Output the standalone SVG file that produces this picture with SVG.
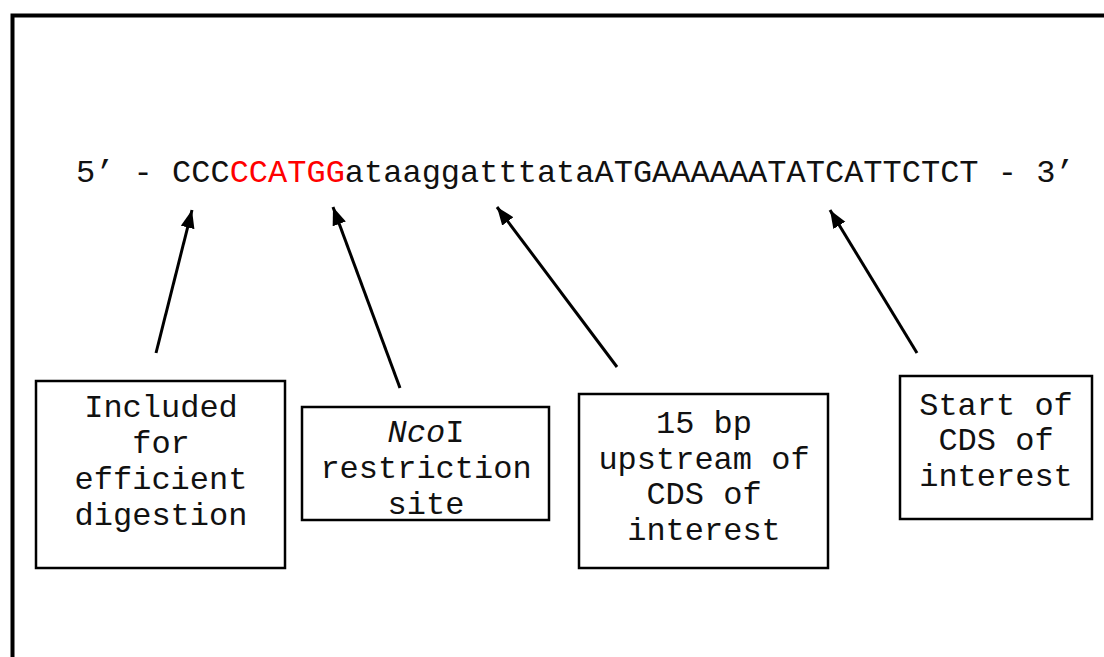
<svg xmlns="http://www.w3.org/2000/svg" width="1104" height="657" viewBox="0 0 1104 657">
<style>
.t{font-family:"Liberation Mono","Courier New",monospace;font-size:32px;fill:#111;text-anchor:middle}
.seq{font-family:"Liberation Mono","Courier New",monospace;font-size:32px;fill:#111}
.box{fill:#fff;stroke:#000;stroke-width:2.5}
.con{stroke:#000;stroke-width:3;fill:none;marker-end:url(#ah)}
</style>
<defs>
<marker id="ah" markerUnits="userSpaceOnUse" markerWidth="20" markerHeight="16" refX="18" refY="7" orient="auto">
<path d="M0,0 L18,7 L0,14 z" fill="#000"/>
</marker>
</defs>
<rect width="1104" height="657" fill="#fff"/>
<rect id="frame" x="12.5" y="15.5" width="1200" height="700" fill="none" stroke="#000" stroke-width="4"/>
<text id="sequence" class="seq" x="76" y="182">5’ - CCC<tspan fill="#ff0000">CCATGG</tspan>ataaggatttataATGAAAAAATATCATTCTCT - 3’</text>
<g id="connectors">
<line class="con" x1="156" y1="353" x2="192" y2="210"/>
<line class="con" x1="400" y1="388" x2="333" y2="207"/>
<line class="con" x1="617" y1="367" x2="497" y2="207"/>
<line class="con" x1="917" y1="353" x2="830" y2="210"/>
</g>
<g id="box1">
<rect class="box" x="36" y="381" width="249" height="187"/>
<text class="t" x="161" y="417">Included</text>
<text class="t" x="161" y="453">for</text>
<text class="t" x="161" y="489">efficient</text>
<text class="t" x="161" y="525">digestion</text>
</g>
<g id="box2">
<rect class="box" x="302" y="407" width="247" height="113"/>
<text class="t" x="426" y="442"><tspan font-style="italic">Nco</tspan>I</text>
<text class="t" x="426" y="478">restriction</text>
<text class="t" x="426" y="514">site</text>
</g>
<g id="box3">
<rect class="box" x="579" y="394" width="249" height="174"/>
<text class="t" x="704" y="433">15 bp</text>
<text class="t" x="704" y="469">upstream of</text>
<text class="t" x="704" y="504">CDS of</text>
<text class="t" x="704" y="540">interest</text>
</g>
<g id="box4">
<rect class="box" x="900" y="376" width="192" height="143"/>
<text class="t" x="996" y="415">Start of</text>
<text class="t" x="996" y="450">CDS of</text>
<text class="t" x="996" y="486">interest</text>
</g>
</svg>
